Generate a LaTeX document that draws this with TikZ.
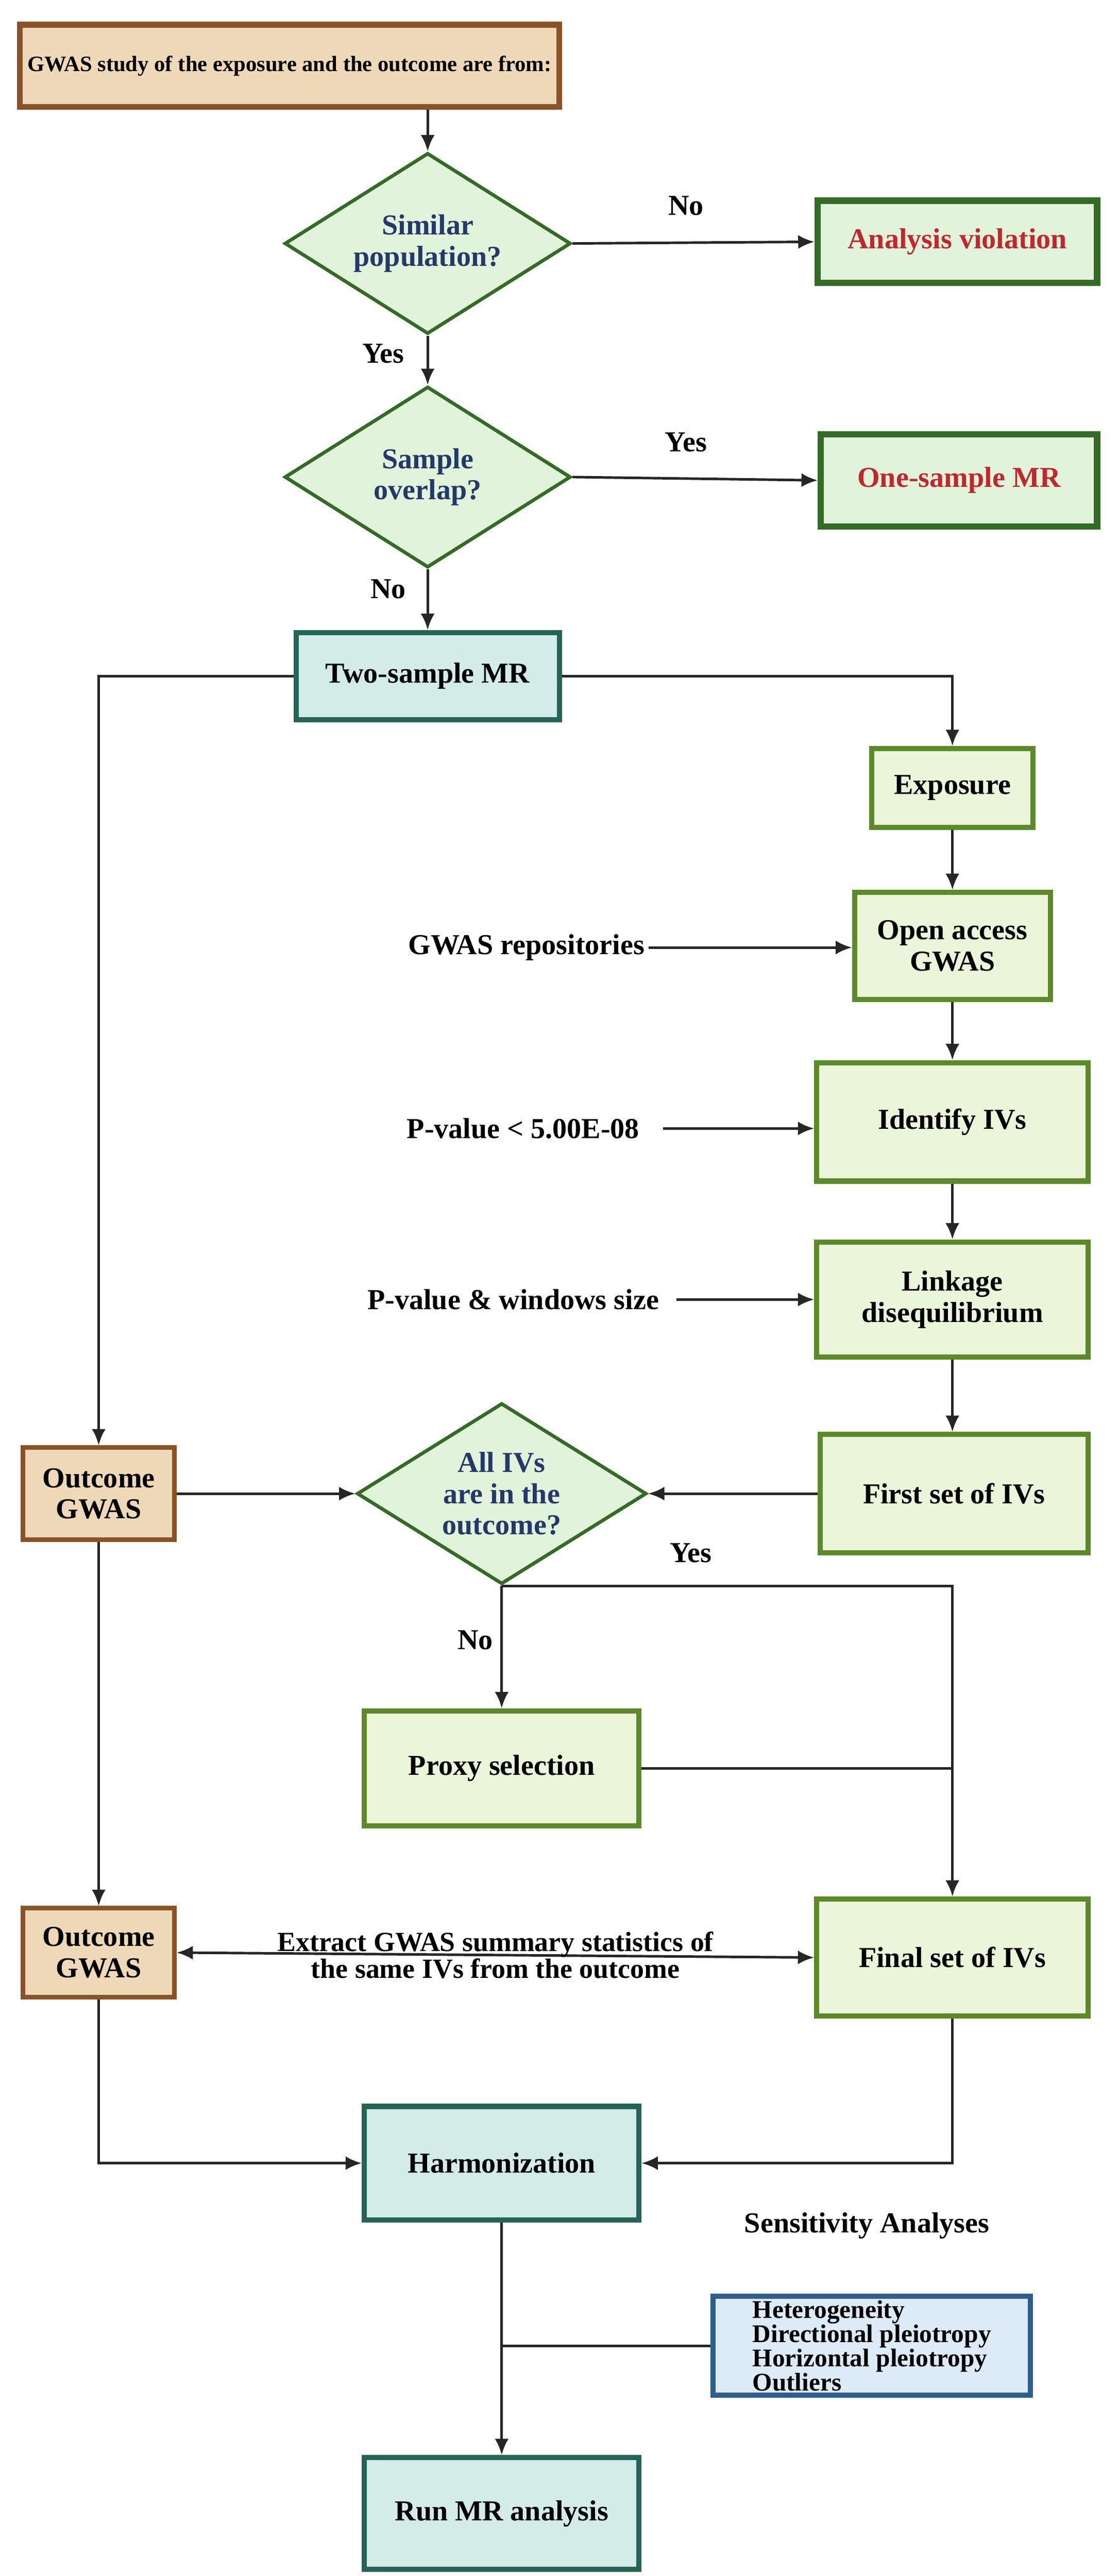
\documentclass[tikz,border=0pt]{standalone}
\usepackage{fontspec}
\setmainfont{Liberation Serif}
\usetikzlibrary{shapes.geometric,arrows.meta}
\definecolor{brB}{HTML}{8B5227}\definecolor{brF}{HTML}{EED8B8}
\definecolor{gdB}{HTML}{346B26}\definecolor{gdF}{HTML}{E1F3DA}
\definecolor{olB}{HTML}{5C8A2A}\definecolor{olF}{HTML}{EBF5DA}
\definecolor{tlB}{HTML}{256457}\definecolor{tlF}{HTML}{D3ECE8}
\definecolor{blB}{HTML}{2E5E8C}\definecolor{blF}{HTML}{DDEAF8}
\definecolor{redT}{HTML}{C1272D}\definecolor{navT}{HTML}{24386B}
\begin{document}
\begin{tikzpicture}[x=0.05cm,y=-0.05cm,
  every node/.style={font=\fontsize{25}{27}\selectfont\bfseries, align=center},
  box/.style={draw, rectangle, line width=4.5pt, inner sep=0pt},
  brown/.style={box, draw=brB, fill=brF, line width=5pt},
  gd/.style={box, draw=gdB, fill=gdF, line width=5.5pt},
  ol/.style={box, draw=olB, fill=olF},
  tl/.style={box, draw=tlB, fill=tlF},
  bl/.style={box, draw=blB, fill=blF},
  dia/.style={draw=gdB, fill=gdF, line width=3pt, diamond, aspect=1.58, inner sep=0pt, text=navT},
  arr/.style={line width=2.2pt, draw={black!85}, -{Latex[length=14pt,width=12pt]}},
  ln/.style={line width=2.2pt, draw={black!85}},
  sz/.style 2 args={minimum width=#1*0.05cm, minimum height=#2*0.05cm}]
\useasboundingbox (0,0) rectangle (680,1566);
\node[brown, sz={328}{50}, font=\fontsize{19}{22}\selectfont\bfseries] (title) at (176,40) {GWAS study of the exposure and the outcome are from:};
\node[dia, sz={174}{110}] (d1) at (260,148) {Similar\\population?};
\node[gd, sz={170}{50}, text=redT] (av) at (582,147) {Analysis violation};
\node[dia, sz={174}{110}] (d2) at (260,290) {Sample\\overlap?};
\node[gd, sz={168}{56}, text=redT] (osm) at (583,292) {One-sample MR};
\node[tl, sz={160}{53}] (tsm) at (260,411) {Two-sample MR};
\node[ol, sz={98}{48}] (exp) at (579,479) {Exposure};
\node[ol, sz={119}{65}] (oag) at (579,575) {Open access\\GWAS};
\node[ol, sz={165}{72}] (iiv) at (579,682) {Identify IVs};
\node[ol, sz={165}{70}] (ld) at (579,790) {Linkage\\disequilibrium};
\node[ol, sz={163}{72}] (fs) at (580,908) {First set of IVs};
\node[dia, sz={176}{110}] (d3) at (305,908) {All IVs\\are in the\\outcome?};
\node[brown, line width=4pt, sz={92}{56}] (og1) at (60,908) {Outcome\\GWAS};
\node[ol, sz={167}{70}] (px) at (305,1075) {Proxy selection};
\node[ol, sz={165}{71}] (fin) at (579,1190) {Final set of IVs};
\node[brown, line width=4pt, sz={92}{54}] (og2) at (60,1187) {Outcome\\GWAS};
\node[tl, sz={167}{69}] (harm) at (305,1315) {Harmonization};
\node[bl, sz={193}{60}, align=left, font=\fontsize{22}{21}\selectfont\bfseries] (sens) at (530,1426) {Heterogeneity\\Directional pleiotropy\\Horizontal pleiotropy\\Outliers};
\node[tl, sz={167}{68}] (run) at (305,1528) {Run MR analysis};
% free text
\node (rep) at (320,576) {GWAS repositories};
\node (pv) at (318,686) {P-value < 5.00E-08};
\node (pw) at (312,790) {P-value \& windows size};
\node (sa) at (527,1353) {Sensitivity Analyses};
\node (l1) at (417,125) {No};
\node (l2) at (233,215) {Yes};
\node (l3) at (417,269) {Yes};
\node (l4) at (236,358) {No};
\node (l5) at (420,944) {Yes};
\node (l6) at (289,997) {No};
% connectors
\draw[arr] (d1.north |- title.south) -- (d1.north);
\draw[arr] (d1.east) -- (av.west);
\draw[arr] (d1.south) -- (d2.north);
\draw[arr] (d2.east) -- (osm.west);
\draw[arr] (d2.south) -- (tsm.north);
\draw[arr] (tsm.west) -| (og1.north);
\draw[arr] (tsm.east) -| (exp.north);
\draw[arr] (exp.south) -- (oag.north);
\draw[arr] (oag.south) -- (iiv.north);
\draw[arr] (iiv.south) -- (ld.north);
\draw[arr] (ld.south) -- (fs.north -| ld.south);
\draw[arr] (rep.east) -- (oag.west |- rep.east);
\draw[arr] (pv.east) ++(12,0) -- (iiv.west |- pv.east);
\draw[arr] (pw.east) ++(8,0) -- (ld.west |- pw.east);
\draw[arr] (fs.west) -- (d3.east);
\draw[arr] (og1.east) -- (d3.west);
\draw[arr] (d3.south) -| (fin.north);
\draw[arr] (d3.south) -- (px.north);
\draw[ln] (px.east) -- (fin.north |- px.east);
\draw[arr] (og1.south) -- (og2.north);
\draw[line width=2.2pt, draw={black!85}, {Latex[length=14pt,width=12pt]}-{Latex[length=14pt,width=12pt]}] (og2.east) -- node[font=\fontsize{24}{20}\selectfont\bfseries] (ex) {Extract GWAS summary statistics of\\the same IVs from the outcome} (fin.west);
\draw[arr] (og2.south) |- (harm.west);
\draw[arr] (fin.south) |- (harm.east);
\draw[arr] (harm.south) -- (run.north);
\draw[ln] (sens.west) -- (harm.south |- sens.west);
\end{tikzpicture}
\end{document}
